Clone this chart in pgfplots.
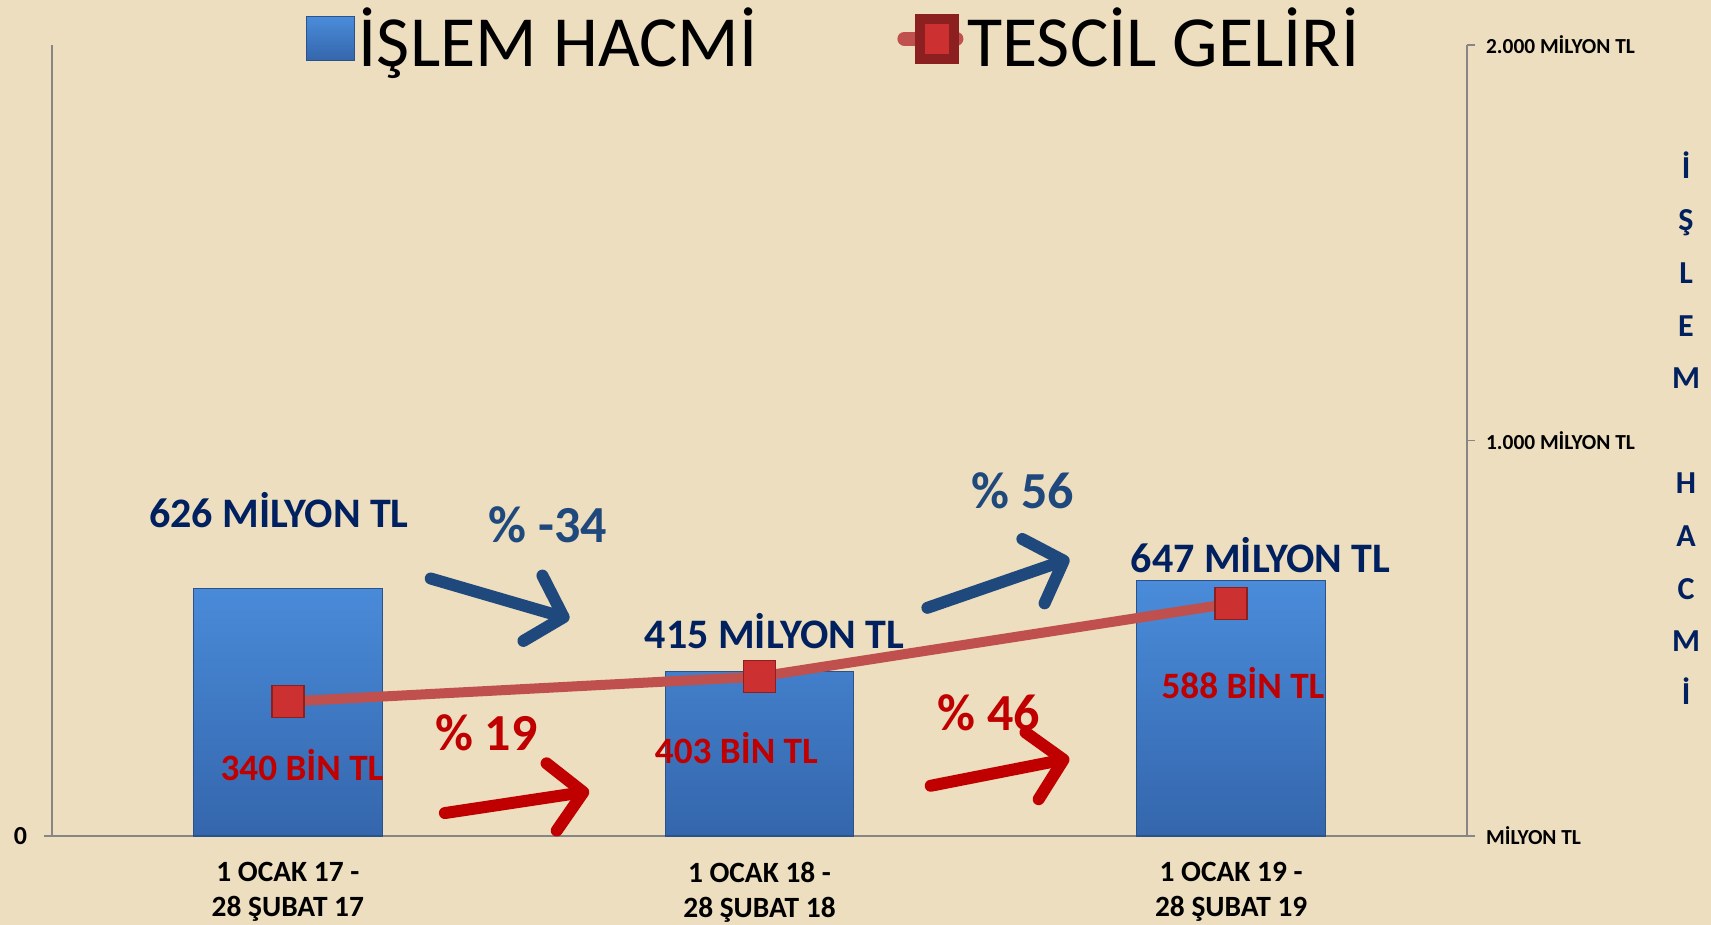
\documentclass[border=0pt]{standalone}
\usepackage{pgfplots}
\pgfplotsset{compat=1.18}
\usepackage{fontspec}
\setmainfont{Carlito}
\usetikzlibrary{arrows.meta}
\definecolor{bgcolor}{RGB}{236,222,190}
\definecolor{barTop}{RGB}{74,140,218}
\definecolor{barBot}{RGB}{52,102,172}
\definecolor{barEdge}{RGB}{44,82,140}
\definecolor{lineRed}{RGB}{192,80,77}
\definecolor{markRed}{RGB}{205,48,48}
\definecolor{markEdge}{RGB}{140,32,32}
\definecolor{navy}{RGB}{0,32,96}
\definecolor{midblue}{RGB}{31,73,125}
\definecolor{dred}{RGB}{192,0,0}
\definecolor{axisgray}{RGB}{134,134,134}
\newcommand\fbig{\bfseries\fontsize{21}{24}\selectfont}
\newcommand\fbin{\bfseries\fontsize{18.6}{22}\selectfont}
\newcommand\fpct{\bfseries\fontsize{26}{30}\selectfont}
\begin{document}
\begin{tikzpicture}
\useasboundingbox (-26pt,-44.5pt) rectangle (829.5pt,418pt);
\fill[bgcolor] (-26pt,-44.5pt) rectangle (829.5pt,418pt);
% right axis
\begin{axis}[
  scale only axis, width=707.5pt, height=395.5pt,
  xmin=-0.5, xmax=2.5, ymin=0, ymax=2000,
  axis x line=none, axis y line*=right,
  every non boxed y axis/.append style={y axis line style=-},
  axis line style={-, draw=axisgray, line width=0.8pt},
  ytick={0,1000,2000},
  yticklabels={MİLYON TL, 1.000 MİLYON TL, 2.000 MİLYON TL},
  yticklabel style={font=\bfseries\fontsize{10.7}{12}\selectfont, anchor=west, xshift=2pt},
  tick align=outside, major tick length=4pt,
  tick style={draw=axisgray, line width=0.8pt},
  clip=false,
]
\addplot[draw=none, forget plot] coordinates {(0,0)};
\end{axis}
% main axis
\begin{axis}[
  scale only axis, width=707.5pt, height=395.5pt,
  xmin=-0.5, xmax=2.5, ymin=0, ymax=2000,
  axis x line*=bottom, axis y line*=left,
  every non boxed x axis/.append style={x axis line style=-},
  every non boxed y axis/.append style={y axis line style=-},
  axis line style={-, draw=axisgray, line width=0.8pt},
  xtick={0,1,2},
  xticklabels={{1 OCAK 17 -\\28 ŞUBAT 17},{1 OCAK 18 -\\28 ŞUBAT 18},{1 OCAK 19 -\\28 ŞUBAT 19}},
  xticklabel style={align=center, font=\bfseries\fontsize{14.7}{17.5}\selectfont, yshift=-5.5pt},
  major x tick style={draw=none},
  extra x ticks={0.5,1.5}, extra x tick labels={},
  extra x tick style={major tick length=5pt, tick align=outside, tick style={draw=axisgray, line width=0.8pt}},
  ytick={0}, yticklabels={0},
  yticklabel style={font=\bfseries\fontsize{13}{15}\selectfont, xshift=-5pt},
  tick align=outside, major tick length=4pt,
  tick style={draw=axisgray, line width=0.8pt},
  clip=false,
  legend columns=2,
  legend style={at={(0.553,1.008)}, anchor=center, draw=none, fill=none,
    font=\fontsize{36}{40}\selectfont,
    /tikz/every even column/.append style={column sep=68pt}},
]
\addplot[ybar, bar width=0.4, bar shift=0pt, draw=barEdge, line width=0.6pt,
  top color=barTop, bottom color=barBot,
  legend image code/.code={\shade[top color=barTop,bottom color=barBot,draw=barEdge] (0pt,-11pt) rectangle (24pt,11pt);}]
  coordinates {(0,626) (1,415) (2,647)};
\addlegendentry{İŞLEM HACMİ}
\addplot[color=lineRed, line width=5pt, mark=square*, mark size=8pt,
  mark options={fill=markRed, draw=markEdge, line width=0.8pt},
  legend image code/.code={\draw[lineRed, line width=7pt, line cap=round] (0pt,0pt) -- (26pt,0pt); \fill[markRed, draw=markEdge] (8pt,-10pt) rectangle (25pt,10pt);}]
  coordinates {(0,340) (1,403) (2,588)};
\addlegendentry{TESCİL GELİRİ}
% value labels
\node[text=navy, font=\fbig] at (axis cs:-0.019,825) {626 MİLYON TL};
\node[text=navy, font=\fbig] at (axis cs:1.032,519) {415 MİLYON TL};
\node[text=navy, font=\fbig] at (axis cs:2.0625,709) {647 MİLYON TL};
\node[text=dred, font=\fbin] at (axis cs:0.030,179) {340 BİN TL};
\node[text=dred, font=\fbin] at (axis cs:0.951,223) {403 BİN TL};
\node[text=dred, font=\fbin] at (axis cs:2.025,386) {588 BİN TL};
\node[text=midblue, font=\fpct] at (axis cs:0.551,786) {\% -34};
\node[text=midblue, font=\fpct] at (axis cs:1.558,872) {\% 56};
\node[text=dred, font=\fpct] at (axis cs:0.421,262) {\% 19};
\node[text=dred, font=\fpct] at (axis cs:1.486,312) {\% 46};
% arrows
\draw[midblue, line width=6pt, line cap=round, -{Straight Barb[length=16pt, width=34pt, line cap=round, line join=round]}] (axis cs:0.303,651) -- (axis cs:0.597,549);
\draw[midblue, line width=6pt, line cap=round, -{Straight Barb[length=16pt, width=34pt, line cap=round, line join=round]}] (axis cs:1.356,577) -- (axis cs:1.657,701);
\draw[dred, line width=6pt, line cap=round, -{Straight Barb[length=16pt, width=34pt, line cap=round, line join=round]}] (axis cs:0.333,58) -- (axis cs:0.639,113);
\draw[dred, line width=6pt, line cap=round, -{Straight Barb[length=16pt, width=34pt, line cap=round, line join=round]}] (axis cs:1.363,127) -- (axis cs:1.657,196);
\end{axis}
% right vertical title
\node[text=navy, font=\bfseries\fontsize{16}{26.3}\selectfont, align=center] at (817pt,204pt)
  {İ\\Ş\\L\\E\\M\\[26.3pt]H\\A\\C\\M\\İ};
\end{tikzpicture}
\end{document}
